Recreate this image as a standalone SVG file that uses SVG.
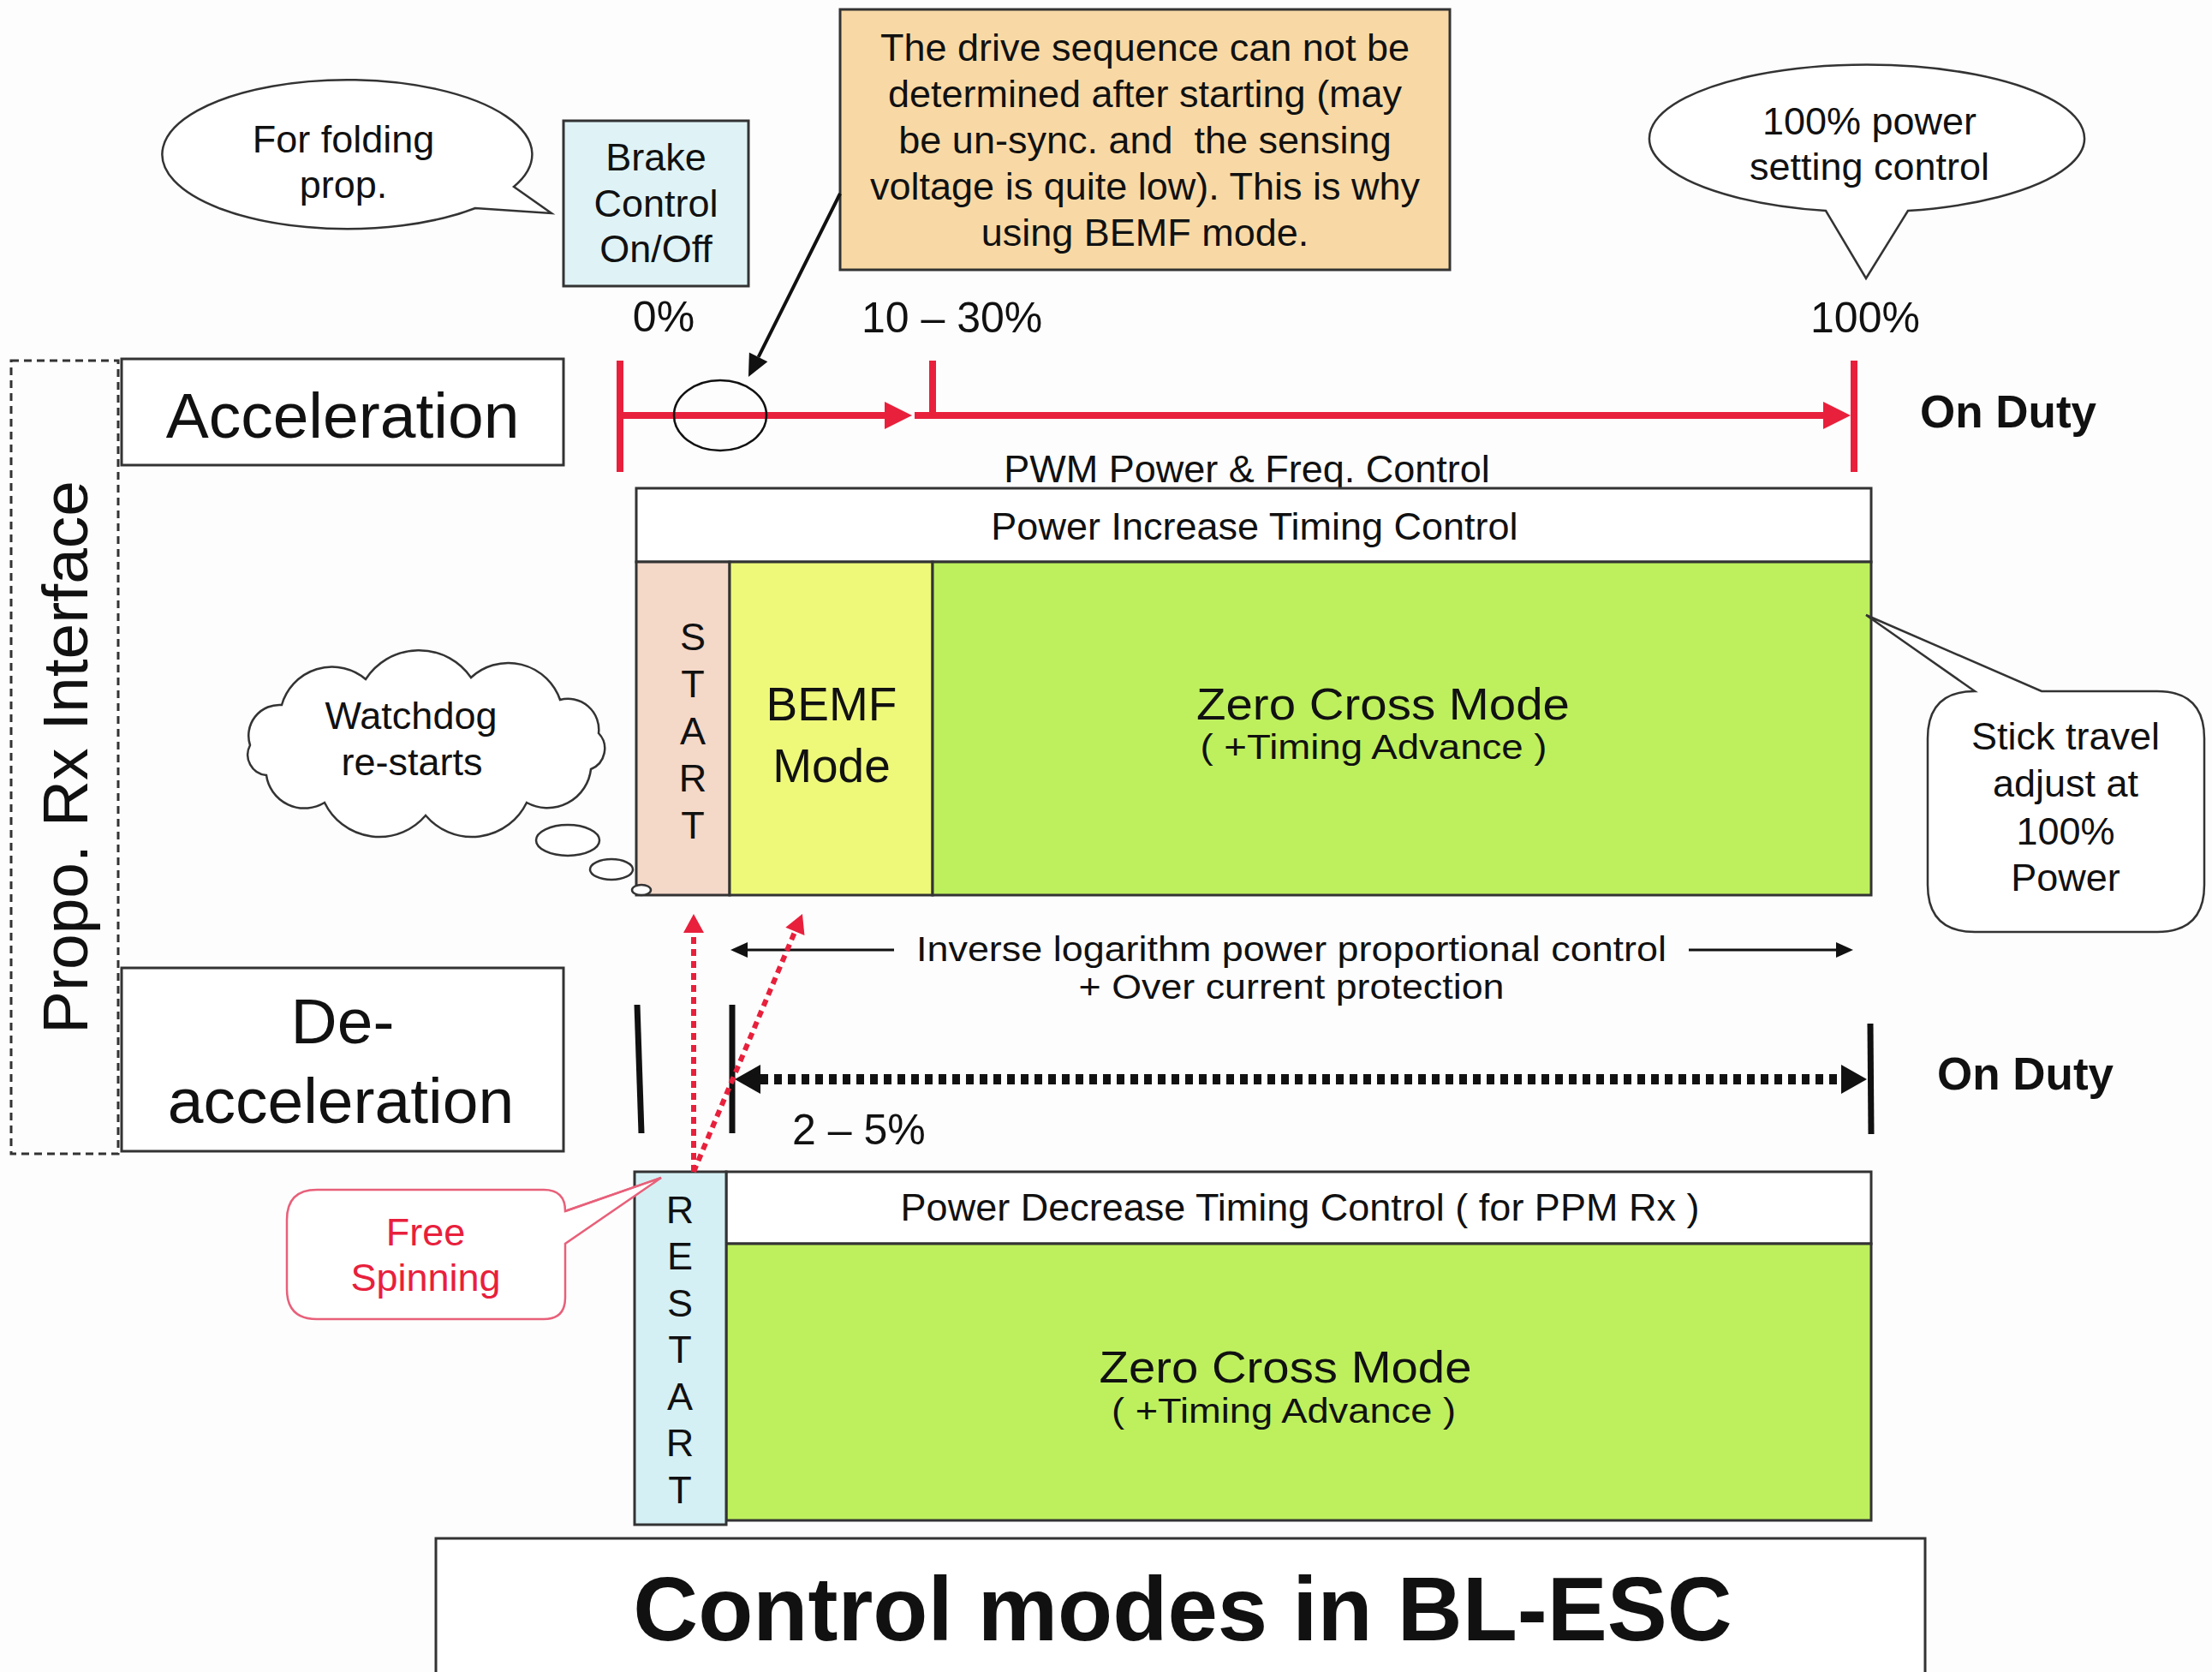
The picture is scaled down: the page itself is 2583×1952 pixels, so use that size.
<svg xmlns="http://www.w3.org/2000/svg" width="2583" height="1952" viewBox="0 0 2583 1952">
<style>
text{font-family:"Liberation Sans",Arial,sans-serif;fill:#111}
.s{font-size:45px}
.t{font-size:41px}
.z{font-size:52px}
.m{font-size:55px}
.l{font-size:75px}
.p{font-size:50px}
.c{text-anchor:middle}
.b{font-weight:bold}
.box{fill:#fff;stroke:#333;stroke-width:3}
.call{fill:#fff;stroke:#333;stroke-width:2.5}
.red{stroke:#e8203c;fill:none}
.blk{stroke:#111;fill:none}
</style>
<defs>
<marker id="hRed" markerUnits="userSpaceOnUse" markerWidth="40" markerHeight="40" refX="0" refY="16" orient="auto" overflow="visible"><path d="M0,0 L32,16 L0,32 Z" fill="#e8203c"/></marker>
<marker id="hRedS" markerUnits="userSpaceOnUse" markerWidth="30" markerHeight="30" refX="0" refY="12" orient="auto" overflow="visible"><path d="M0,0 L22,12 L0,24 Z" fill="#e8203c"/></marker>
<marker id="hBlk" markerUnits="userSpaceOnUse" markerWidth="40" markerHeight="40" refX="0" refY="17" orient="auto-start-reverse" overflow="visible"><path d="M0,0 L30,17 L0,34 Z" fill="#111"/></marker>
<marker id="hThin" markerUnits="userSpaceOnUse" markerWidth="30" markerHeight="30" refX="0" refY="9" orient="auto" overflow="visible"><path d="M0,0 L20,9 L0,18 Z" fill="#111"/></marker>
<marker id="hCall" markerUnits="userSpaceOnUse" markerWidth="30" markerHeight="30" refX="0" refY="12" orient="auto" overflow="visible"><path d="M0,0 L26,12 L0,24 Z" fill="#111"/></marker>
</defs>
<rect width="2583" height="1952" fill="#fdfdfd"/>

<g id="propo-rx">
<rect x="13" y="421" width="125" height="926" fill="none" stroke="#333" stroke-width="3" stroke-dasharray="9 6"/>
<text class="l c" transform="translate(102,884) rotate(-90)">Propo. Rx Interface</text>
</g>

<g id="acceleration">
<rect class="box" x="142" y="419" width="516" height="124"/>
<text class="l c" x="400" y="511">Acceleration</text>
</g>

<g id="deacceleration">
<rect class="box" x="142" y="1130" width="516" height="214"/>
<text class="l c" x="400" y="1218">De-</text>
<text class="l c" x="398" y="1311">acceleration</text>
</g>

<g id="folding-callout">
<path class="call" d="M600,218 L644,249 L555,243 A216,87 0 1 1 600,218 Z"/>
<text class="s c" x="401" y="178">For folding</text>
<text class="s c" x="401" y="231">prop.</text>
</g>

<g id="brake">
<rect x="658" y="141" width="216" height="193" fill="#dff3f6" stroke="#333" stroke-width="3"/>
<text class="s c" x="766" y="199">Brake</text>
<text class="s c" x="766" y="253">Control</text>
<text class="s c" x="766" y="306">On/Off</text>
</g>

<g id="bemf-note">
<rect x="981" y="11" width="712" height="304" fill="#f8d9a5" stroke="#333" stroke-width="3"/>
<text class="s c" x="1337" y="71">The drive sequence can not be</text>
<text class="s c" x="1337" y="125">determined after starting (may</text>
<text class="s c" x="1337" y="179" xml:space="preserve">be un-sync. and  the sensing</text>
<text class="s c" x="1337" y="233">voltage is quite low). This is why</text>
<text class="s c" x="1337" y="287">using BEMF mode.</text>
</g>

<g id="power-callout">
<path class="call" d="M2228,246 L2179,325 L2132,246 A254,86 0 1 1 2228,246 Z"/>
<text class="s c" x="2183" y="157">100% power</text>
<text class="s c" x="2183" y="210">setting control</text>
</g>

<g id="scale-labels">
<text class="p c" x="775" y="387">0%</text>
<text class="p" x="1006" y="388">10 – 30%</text>
<text class="p c" x="2178" y="388">100%</text>
<text class="b" style="font-size:53px" x="2242" y="499">On Duty</text>
<text class="b" style="font-size:53px" x="2262" y="1272">On Duty</text>
<text class="p" x="925" y="1336">2 – 5%</text>
<text class="s c" x="1456" y="563">PWM Power &amp; Freq. Control</text>
<text class="t c" x="1508" y="1122" textLength="876" lengthAdjust="spacingAndGlyphs">Inverse logarithm power proportional control</text>
<text class="t c" x="1508" y="1166" textLength="497" lengthAdjust="spacingAndGlyphs">+ Over current protection</text>
</g>

<g id="increase-block">
<rect class="box" x="743" y="570" width="1442" height="86"/>
<text class="s c" x="1465" y="630">Power Increase Timing Control</text>
<rect x="743" y="656" width="109" height="389" fill="#f4d8c8" stroke="#333" stroke-width="3"/>
<text class="s c" x="809" y="759">S</text>
<text class="s c" x="809" y="814">T</text>
<text class="s c" x="809" y="869">A</text>
<text class="s c" x="809" y="924">R</text>
<text class="s c" x="809" y="979">T</text>
<rect x="852" y="656" width="237" height="389" fill="#eef97a" stroke="#333" stroke-width="3"/>
<text class="m c" x="971" y="841">BEMF</text>
<text class="m c" x="971" y="913">Mode</text>
<rect x="1089" y="656" width="1096" height="389" fill="#bef05e" stroke="#333" stroke-width="3"/>
<text class="z c" x="1615" y="840" textLength="436" lengthAdjust="spacingAndGlyphs">Zero Cross Mode</text>
<text class="t c" x="1604" y="886" textLength="405" lengthAdjust="spacingAndGlyphs">( +Timing Advance )</text>
</g>

<g id="watchdog">
<path class="call" d="M292,870 A36,36 0 0 1 329,823 A61,61 0 0 1 427,793 A74,74 0 0 1 550,791 A64,64 0 0 1 654,817 A36,36 0 0 1 699,856 A26,26 0 0 1 690,898 A51,51 0 0 1 615,937 A71,71 0 0 1 497,952 A71,71 0 0 1 379,937 A45,45 0 0 1 311,905 A24,24 0 0 1 292,870 Z"/>
<ellipse class="call" cx="663" cy="981" rx="37" ry="18"/>
<ellipse class="call" cx="714" cy="1015" rx="25" ry="12"/>
<ellipse class="call" cx="749" cy="1039" rx="11" ry="6"/>
<text class="s c" x="480" y="851">Watchdog</text>
<text class="s c" x="481" y="905">re-starts</text>
</g>

<g id="stick-callout">
<path class="call" d="M2306,807 L2179,718 L2384,807 H2519 Q2574,807 2574,862 V1033 Q2574,1088 2519,1088 H2306 Q2251,1088 2251,1033 V862 Q2251,807 2306,807 Z"/>
<text class="s c" x="2412" y="875">Stick travel</text>
<text class="s c" x="2412" y="930">adjust at</text>
<text class="s c" x="2412" y="986">100%</text>
<text class="s c" x="2412" y="1040">Power</text>
</g>

<g id="decrease-block">
<rect class="box" x="848" y="1368" width="1337" height="84"/>
<text class="s c" x="1518" y="1425">Power Decrease Timing Control ( for PPM Rx )</text>
<rect x="848" y="1452" width="1337" height="323" fill="#bef05e" stroke="#333" stroke-width="3"/>
<text class="z c" x="1501" y="1614" textLength="435" lengthAdjust="spacingAndGlyphs">Zero Cross Mode</text>
<text class="t c" x="1499" y="1661" textLength="402" lengthAdjust="spacingAndGlyphs">( +Timing Advance )</text>
<rect x="741" y="1368" width="107" height="412" fill="#d4f0f4" stroke="#333" stroke-width="3"/>
<text class="s c" x="794" y="1428">R</text>
<text class="s c" x="794" y="1482">E</text>
<text class="s c" x="794" y="1537">S</text>
<text class="s c" x="794" y="1591">T</text>
<text class="s c" x="794" y="1646">A</text>
<text class="s c" x="794" y="1700">R</text>
<text class="s c" x="794" y="1755">T</text>
</g>

<g id="free-spinning">
<path d="M370,1389 H635 Q660,1389 660,1414 L772,1375 L660,1452 V1515 Q660,1540 635,1540 H370 Q335,1540 335,1505 V1424 Q335,1389 370,1389 Z" fill="#fff" stroke="#e8607a" stroke-width="2.5"/>
<text class="s c" style="fill:#e8203c" x="497" y="1454">Free</text>
<text class="s c" style="fill:#e8203c" x="497" y="1507">Spinning</text>
</g>

<g id="title">
<rect class="box" x="509" y="1796" width="1739" height="200"/>
<text class="c b" style="font-size:105px" x="1381" y="1915">Control modes in BL-ESC</text>
</g>

<g id="connectors">
<line class="red" x1="724" y1="421" x2="724" y2="551" stroke-width="8"/>
<line class="red" x1="2165" y1="421" x2="2165" y2="551" stroke-width="8"/>
<line class="red" x1="1089" y1="421" x2="1089" y2="485" stroke-width="8"/>
<line class="red" x1="724" y1="485" x2="1033" y2="485" stroke-width="8" marker-end="url(#hRed)"/>
<line class="red" x1="1068" y1="485" x2="2129" y2="485" stroke-width="8" marker-end="url(#hRed)"/>
<ellipse cx="841" cy="485" rx="54" ry="41" fill="none" stroke="#111" stroke-width="2.5"/>
<line class="blk" x1="981" y1="226" x2="885.6" y2="416.8" stroke-width="4" marker-end="url(#hCall)"/>
<line class="blk" x1="744" y1="1173" x2="749" y2="1323" stroke-width="7"/>
<line class="blk" x1="855" y1="1173" x2="855" y2="1323" stroke-width="7"/>
<line class="blk" x1="2184" y1="1195" x2="2185" y2="1324" stroke-width="7"/>
<line class="blk" x1="888" y1="1260" x2="2150" y2="1260" stroke-width="12" stroke-dasharray="9 7" marker-start="url(#hBlk)" marker-end="url(#hBlk)"/>
<line class="blk" x1="1044" y1="1109" x2="873" y2="1109" stroke-width="3" marker-end="url(#hThin)"/>
<line class="blk" x1="1972" y1="1109" x2="2144" y2="1109" stroke-width="3" marker-end="url(#hThin)"/>
<line class="red" x1="810" y1="1368" x2="810" y2="1089" stroke-width="6" stroke-dasharray="8 6" marker-end="url(#hRedS)"/>
<line class="red" x1="810" y1="1368" x2="928.4" y2="1087.3" stroke-width="6" stroke-dasharray="8 6" marker-end="url(#hRedS)"/>
<line stroke="#e8607a" stroke-width="2.5" x1="660" y1="1414" x2="772" y2="1375"/>
</g>
</svg>
